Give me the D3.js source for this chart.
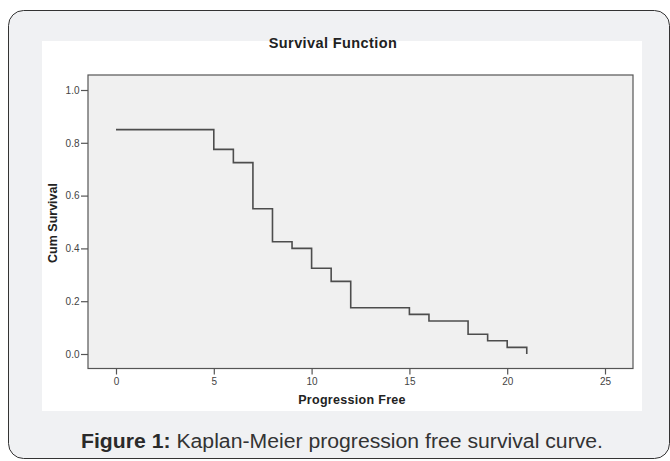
<!DOCTYPE html>
<html><head><meta charset="utf-8">
<script src="https://cdn.jsdelivr.net/npm/d3@7"></script>
<style>body{margin:0;background:#fff}svg{display:block}</style>
</head><body>
<script>
const times = [0,5,6,7,8,9,10,11,12,15,16,18,19,20,21];
const survival = [0.85,0.775,0.725,0.55,0.425,0.40,0.325,0.275,0.175,0.15,0.125,0.075,0.05,0.025,0.0];
const xTicks = [0,5,10,15,20,25];
const yTicks = [0.0,0.2,0.4,0.6,0.8,1.0];
const chartTitle = "Survival Function";
const xTitle = "Progression Free";
const yTitle = "Cum Survival";

(function(){
const W = 670, H = 461;
const svg = d3.select("body").append("svg").attr("width", W).attr("height", H);
const font = "'Liberation Sans', Arial, sans-serif";

// outer framed box
svg.append("rect").attr("x",8.5).attr("y",10.5).attr("width",661).attr("height",448)
  .attr("rx",15).attr("fill","#f0f1f3").attr("stroke","#333").attr("stroke-width",1);
// white panel
svg.append("rect").attr("x",42).attr("y",41).attr("width",600).attr("height",370).attr("fill","#fff");

const x = d3.scaleLinear().domain([0,25]).range([116,605]);
const y = d3.scaleLinear().domain([0,1]).range([354,90]);

const pL=88, pR=633, pT=75, pB=368.5;
svg.append("rect").attr("x",pL).attr("y",pT).attr("width",pR-pL).attr("height",pB-pT)
  .attr("fill","#f0f0f0").attr("stroke","#555").attr("stroke-width",1.2);

const xAxis = svg.append("g").attr("transform",`translate(0,${pB})`)
  .call(d3.axisBottom(x).tickValues(xTicks).tickFormat(d3.format("d")).tickSize(6).tickPadding(2).tickSizeOuter(0));
const yAxis = svg.append("g").attr("transform",`translate(${pL},0)`)
  .call(d3.axisLeft(y).tickValues(yTicks).tickFormat(d3.format(".1f")).tickSize(7).tickPadding(1.5).tickSizeOuter(0));
[xAxis,yAxis].forEach(a=>{
  a.select(".domain").remove();
  a.selectAll("line").attr("stroke","#555").attr("stroke-width",1.2);
  a.selectAll("text").attr("fill","#444").style("font-family",font).style("font-size","10px");
});
xAxis.selectAll("text").attr("dy","0.85em");

// step line
const pts = [];
times.forEach((t,i)=>{
  if(i>0) pts.push([t, survival[i-1]]);
  pts.push([t, survival[i]]);
});
const line = d3.line().x(d=>x(d[0])).y(d=>y(d[1]));
svg.append("path").datum(pts)
  .attr("d",line).attr("fill","none").attr("stroke","#4d4d4d").attr("stroke-width",1.6);

svg.append("text").attr("x",333).attr("y",47.5).attr("text-anchor","middle")
  .style("font-family",font).style("font-weight","bold").style("font-size","14.5px")
  .style("letter-spacing","0.4px").attr("fill","#222").text(chartTitle);
svg.append("text").attr("x",352).attr("y",404).attr("text-anchor","middle")
  .style("font-family",font).style("font-weight","bold").style("font-size","12.5px")
  .style("letter-spacing","0.3px").attr("fill","#222").text(xTitle);
svg.append("text").attr("transform",`translate(57,223) rotate(-90)`).attr("text-anchor","middle")
  .style("font-family",font).style("font-weight","bold").style("font-size","12.5px").attr("fill","#222").text(yTitle);

const cap = svg.append("text").attr("x",342).attr("y",448).attr("text-anchor","middle")
  .style("font-family",font).style("font-size","19.5px").attr("fill","#333")
  .attr("textLength",522).attr("lengthAdjust","spacingAndGlyphs");
cap.append("tspan").style("font-weight","bold").attr("fill","#2a2a2a").text("Figure 1:");
cap.append("tspan").text(" Kaplan-Meier progression free survival curve.");
})();
</script>
</body></html>
